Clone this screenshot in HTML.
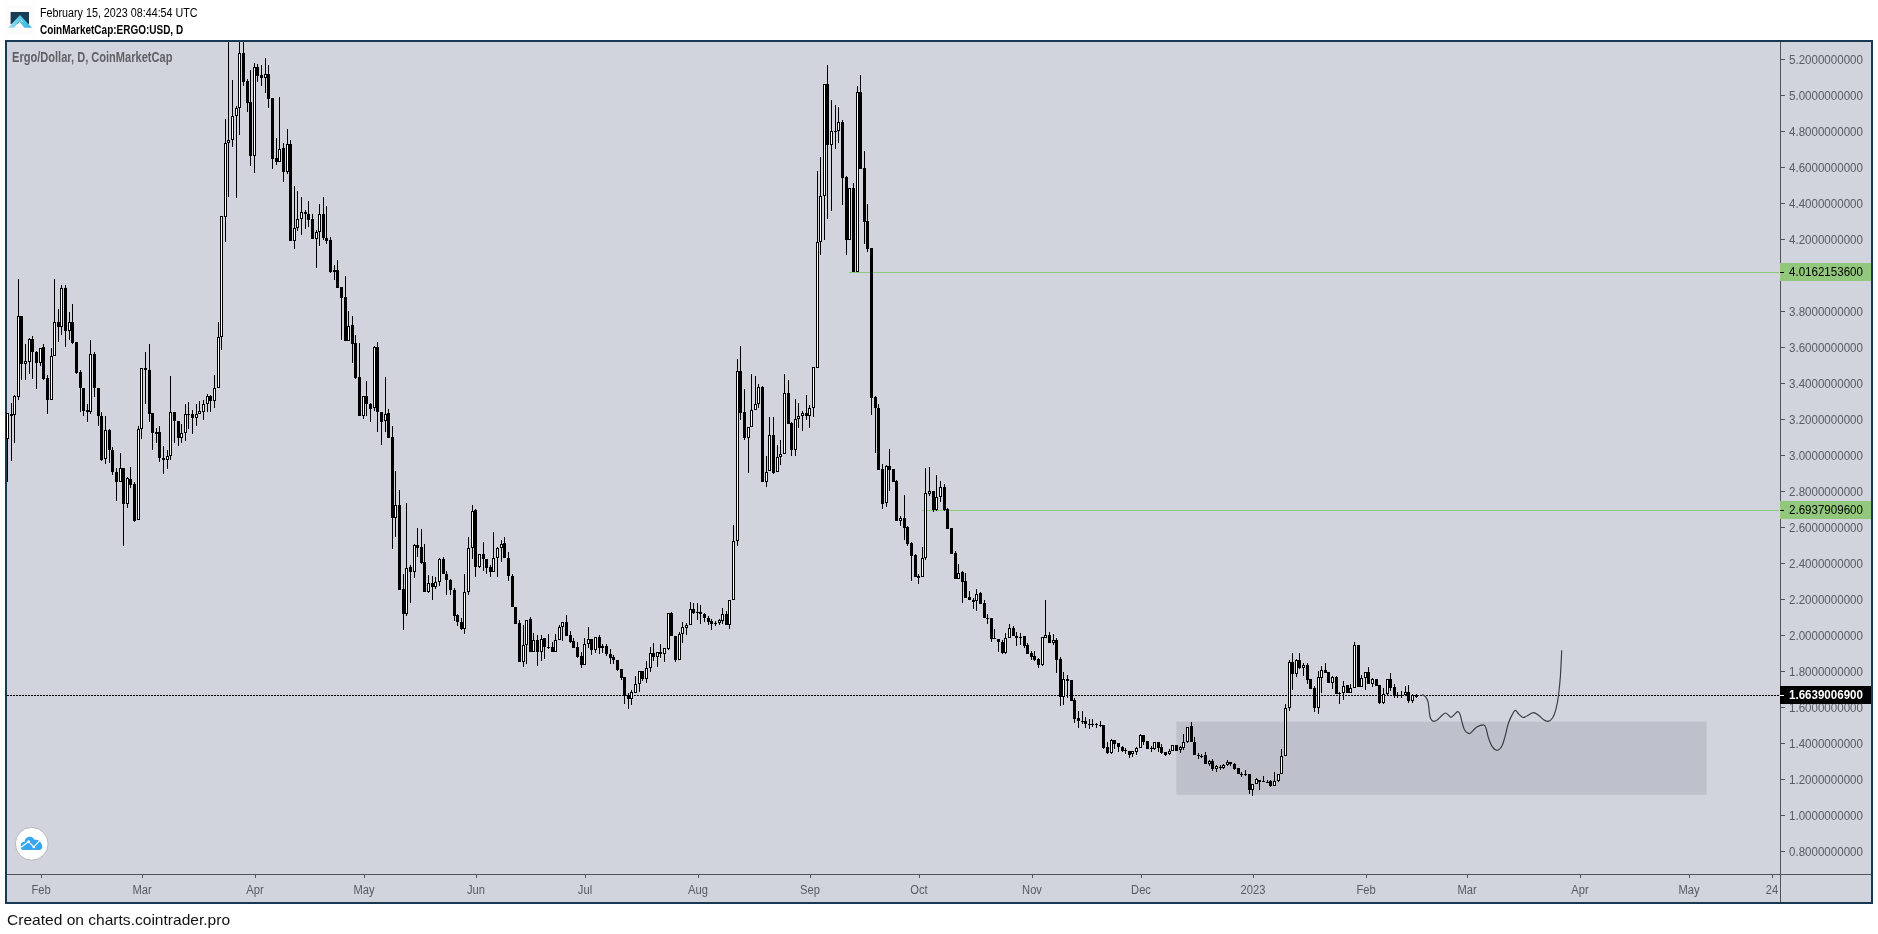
<!DOCTYPE html>
<html><head><meta charset="utf-8"><title>chart</title>
<style>
html,body{margin:0;padding:0;background:#fff;}
body{width:1878px;height:934px;position:relative;overflow:hidden;font-family:"Liberation Sans",sans-serif;}
.t{position:absolute;white-space:nowrap;transform-origin:0 50%;line-height:1;}
.frame{position:absolute;left:5px;top:40px;width:1864px;height:860px;border:2px solid #173a52;background:#d1d4dc;}
.pl{position:absolute;left:1789px;font-size:12.5px;color:#555a66;transform:scaleX(0.925);transform-origin:0 50%;line-height:12px;height:12px;white-space:nowrap;}
.tl{position:absolute;top:884px;font-size:12px;color:#555a66;line-height:12px;width:60px;margin-left:-30px;text-align:center;transform:scaleX(0.93);white-space:nowrap;}
.box{position:absolute;left:1780px;width:91px;height:18px;}
</style></head><body>
<div class="frame"></div>

<svg width="1878" height="934" viewBox="0 0 1878 934" shape-rendering="crispEdges" style="position:absolute;left:0;top:0">
<rect x="1176.4" y="721.7" width="530.2" height="73.1" fill="#bec1cb" shape-rendering="geometricPrecision"/>
<rect x="849" y="272" width="930" height="1" fill="#8fc779"/>
<rect x="922" y="510" width="857" height="1" fill="#8fc779"/>
<path d="M7 695.5H1780" stroke="#000" stroke-width="1" stroke-dasharray="2 1" fill="none"/>
<path d="M7 413h1v69h-1zM11 403h1v58h-1zM14 395h1v48h-1zM18 279h1v121h-1zM21 316h1v64h-1zM25 344h1v36h-1zM29 338h1v36h-1zM32 336h1v43h-1zM36 351h1v38h-1zM40 348h1v18h-1zM43 344h1v36h-1zM47 375h1v39h-1zM51 348h1v52h-1zM54 279h1v77h-1zM58 309h1v33h-1zM61 285h1v50h-1zM65 285h1v62h-1zM69 312h1v28h-1zM72 304h1v40h-1zM76 342h1v32h-1zM80 370h1v42h-1zM83 388h1v28h-1zM87 404h1v18h-1zM90 340h1v74h-1zM94 352h1v45h-1zM98 388h1v38h-1zM101 412h1v49h-1zM105 416h1v48h-1zM109 429h1v34h-1zM112 447h1v28h-1zM116 468h1v33h-1zM120 453h1v29h-1zM123 468h1v78h-1zM127 477h1v31h-1zM130 467h1v21h-1zM134 482h1v40h-1zM138 426h1v94h-1zM141 368h1v71h-1zM145 352h1v52h-1zM149 344h1v78h-1zM152 413h1v37h-1zM156 428h1v15h-1zM159 426h1v36h-1zM163 446h1v28h-1zM167 450h1v19h-1zM170 376h1v84h-1zM174 412h1v31h-1zM178 421h1v25h-1zM181 424h1v19h-1zM185 404h1v37h-1zM188 402h1v27h-1zM192 410h1v24h-1zM196 404h1v22h-1zM199 401h1v13h-1zM203 400h1v20h-1zM207 394h1v18h-1zM210 395h1v17h-1zM214 375h1v33h-1zM218 322h1v66h-1zM221 216h1v134h-1zM225 119h1v123h-1zM228 42h1v155h-1zM232 80h1v67h-1zM236 106h1v92h-1zM239 42h1v93h-1zM243 42h1v44h-1zM247 79h1v33h-1zM250 70h1v96h-1zM254 63h1v110h-1zM257 64h1v18h-1zM261 65h1v21h-1zM265 58h1v35h-1zM268 65h1v43h-1zM272 98h1v71h-1zM276 138h1v27h-1zM279 97h1v65h-1zM283 143h1v39h-1zM287 129h1v45h-1zM290 140h1v101h-1zM294 186h1v63h-1zM297 191h1v40h-1zM301 197h1v38h-1zM305 210h1v19h-1zM308 201h1v26h-1zM312 214h1v25h-1zM316 230h1v38h-1zM319 204h1v42h-1zM323 197h1v43h-1zM326 206h1v38h-1zM330 237h1v36h-1zM334 265h1v15h-1zM337 260h1v28h-1zM341 287h1v53h-1zM345 276h1v65h-1zM348 311h1v30h-1zM352 316h1v47h-1zM355 335h1v44h-1zM359 343h1v73h-1zM363 396h1v23h-1zM366 381h1v35h-1zM370 403h1v19h-1zM374 346h1v65h-1zM377 342h1v90h-1zM381 412h1v33h-1zM385 377h1v55h-1zM388 409h1v29h-1zM392 426h1v123h-1zM395 471h1v66h-1zM399 490h1v100h-1zM403 574h1v56h-1zM406 503h1v113h-1zM410 565h1v38h-1zM414 544h1v34h-1zM417 528h1v29h-1zM421 529h1v35h-1zM424 544h1v48h-1zM428 575h1v18h-1zM432 576h1v24h-1zM435 577h1v12h-1zM439 558h1v28h-1zM443 557h1v17h-1zM446 571h1v24h-1zM450 579h1v16h-1zM454 588h1v33h-1zM457 614h1v12h-1zM461 618h1v12h-1zM464 574h1v60h-1zM468 537h1v58h-1zM472 505h1v54h-1zM475 509h1v68h-1zM479 554h1v14h-1zM483 542h1v29h-1zM486 559h1v15h-1zM490 565h1v12h-1zM493 532h1v40h-1zM497 547h1v30h-1zM501 540h1v22h-1zM504 537h1v21h-1zM508 552h1v29h-1zM512 574h1v33h-1zM515 607h1v17h-1zM519 620h1v42h-1zM523 625h1v42h-1zM526 620h1v44h-1zM530 617h1v35h-1zM533 633h1v19h-1zM537 635h1v31h-1zM541 635h1v26h-1zM544 638h1v21h-1zM548 634h1v15h-1zM552 642h1v10h-1zM555 634h1v18h-1zM559 625h1v15h-1zM562 622h1v19h-1zM566 615h1v21h-1zM570 631h1v12h-1zM573 638h1v10h-1zM577 642h1v16h-1zM581 652h1v16h-1zM584 638h1v27h-1zM588 627h1v21h-1zM591 639h1v16h-1zM595 637h1v16h-1zM599 635h1v19h-1zM602 644h1v9h-1zM606 644h1v12h-1zM610 649h1v15h-1zM613 655h1v9h-1zM617 660h1v11h-1zM621 669h1v11h-1zM624 677h1v27h-1zM628 693h1v16h-1zM631 690h1v15h-1zM635 676h1v17h-1zM639 671h1v21h-1zM642 671h1v10h-1zM646 661h1v22h-1zM650 647h1v25h-1zM653 643h1v18h-1zM657 652h1v15h-1zM660 644h1v14h-1zM664 648h1v14h-1zM668 613h1v37h-1zM671 612h1v24h-1zM675 636h1v26h-1zM679 632h1v28h-1zM682 622h1v21h-1zM686 623h1v12h-1zM690 602h1v23h-1zM693 603h1v11h-1zM697 603h1v17h-1zM700 605h1v19h-1zM704 613h1v9h-1zM708 616h1v9h-1zM711 619h1v11h-1zM715 621h1v5h-1zM719 619h1v6h-1zM722 608h1v16h-1zM726 611h1v14h-1zM729 600h1v29h-1zM733 525h1v75h-1zM737 359h1v187h-1zM740 346h1v74h-1zM744 389h1v51h-1zM748 427h1v46h-1zM751 374h1v53h-1zM755 376h1v34h-1zM758 384h1v24h-1zM762 386h1v96h-1zM766 456h1v31h-1zM769 417h1v54h-1zM773 417h1v57h-1zM777 445h1v27h-1zM780 440h1v25h-1zM784 374h1v80h-1zM788 380h1v44h-1zM791 422h1v34h-1zM795 399h1v57h-1zM798 403h1v25h-1zM802 411h1v20h-1zM806 395h1v25h-1zM809 405h1v23h-1zM813 367h1v50h-1zM817 171h1v197h-1zM820 157h1v98h-1zM824 84h1v156h-1zM827 65h1v154h-1zM831 100h1v111h-1zM835 105h1v44h-1zM838 107h1v36h-1zM842 120h1v85h-1zM846 176h1v79h-1zM849 188h1v52h-1zM853 183h1v89h-1zM857 86h1v186h-1zM860 75h1v94h-1zM864 151h1v93h-1zM867 204h1v48h-1zM871 248h1v167h-1zM875 396h1v57h-1zM878 404h1v66h-1zM882 464h1v45h-1zM886 465h1v42h-1zM889 449h1v42h-1zM893 469h1v13h-1zM896 480h1v41h-1zM900 516h1v10h-1zM904 495h1v45h-1zM907 526h1v20h-1zM911 542h1v39h-1zM915 554h1v23h-1zM918 574h1v10h-1zM922 547h1v30h-1zM925 468h1v92h-1zM929 467h1v29h-1zM933 491h1v21h-1zM936 475h1v36h-1zM940 481h1v21h-1zM944 484h1v27h-1zM947 508h1v21h-1zM951 528h1v26h-1zM955 551h1v28h-1zM958 564h1v15h-1zM962 571h1v32h-1zM965 573h1v25h-1zM969 591h1v9h-1zM973 598h1v11h-1zM976 589h1v22h-1zM980 592h1v12h-1zM984 600h1v18h-1zM987 614h1v10h-1zM991 618h1v24h-1zM994 629h1v10h-1zM998 639h1v13h-1zM1002 640h1v14h-1zM1005 633h1v21h-1zM1009 624h1v14h-1zM1013 626h1v10h-1zM1016 632h1v14h-1zM1020 633h1v12h-1zM1024 636h1v12h-1zM1027 643h1v11h-1zM1031 651h1v9h-1zM1034 651h1v10h-1zM1038 658h1v10h-1zM1042 637h1v29h-1zM1045 600h1v38h-1zM1049 632h1v11h-1zM1053 634h1v11h-1zM1056 638h1v35h-1zM1060 657h1v49h-1zM1063 672h1v33h-1zM1067 675h1v23h-1zM1071 680h1v21h-1zM1074 698h1v25h-1zM1078 711h1v17h-1zM1082 711h1v13h-1zM1085 717h1v11h-1zM1089 719h1v10h-1zM1092 719h1v8h-1zM1096 723h1v5h-1zM1100 721h1v6h-1zM1103 725h1v24h-1zM1107 742h1v12h-1zM1111 739h1v15h-1zM1114 740h1v9h-1zM1118 743h1v9h-1zM1122 746h1v6h-1zM1125 748h1v6h-1zM1129 751h1v7h-1zM1132 751h1v6h-1zM1136 747h1v8h-1zM1140 734h1v14h-1zM1143 735h1v10h-1zM1147 741h1v8h-1zM1151 746h1v6h-1zM1154 742h1v8h-1zM1158 742h1v10h-1zM1161 744h1v10h-1zM1165 752h1v4h-1zM1169 749h1v6h-1zM1172 745h1v6h-1zM1176 745h1v6h-1zM1180 746h1v7h-1zM1183 734h1v16h-1zM1187 727h1v16h-1zM1191 722h1v20h-1zM1194 737h1v18h-1zM1198 753h1v6h-1zM1201 754h1v4h-1zM1205 752h1v12h-1zM1209 760h1v6h-1zM1212 759h1v12h-1zM1216 765h1v7h-1zM1220 765h1v5h-1zM1223 764h1v5h-1zM1227 760h1v6h-1zM1230 762h1v4h-1zM1234 763h1v7h-1zM1238 768h1v6h-1zM1241 772h1v5h-1zM1245 770h1v6h-1zM1249 774h1v20h-1zM1252 784h1v12h-1zM1256 778h1v6h-1zM1259 780h1v10h-1zM1263 776h1v6h-1zM1267 780h1v3h-1zM1270 780h1v7h-1zM1274 772h1v14h-1zM1278 774h1v8h-1zM1281 749h1v25h-1zM1285 704h1v52h-1zM1289 660h1v51h-1zM1292 653h1v37h-1zM1296 659h1v18h-1zM1299 653h1v16h-1zM1303 663h1v13h-1zM1307 663h1v21h-1zM1310 679h1v10h-1zM1314 686h1v26h-1zM1318 671h1v43h-1zM1321 666h1v27h-1zM1325 663h1v10h-1zM1328 672h1v11h-1zM1332 676h1v13h-1zM1336 676h1v18h-1zM1339 692h1v12h-1zM1343 681h1v19h-1zM1347 685h1v8h-1zM1350 684h1v9h-1zM1354 642h1v46h-1zM1358 645h1v42h-1zM1361 675h1v12h-1zM1365 672h1v18h-1zM1368 667h1v17h-1zM1372 678h1v9h-1zM1376 679h1v7h-1zM1379 685h1v19h-1zM1383 688h1v16h-1zM1387 679h1v17h-1zM1390 673h1v18h-1zM1394 684h1v14h-1zM1397 692h1v6h-1zM1401 691h1v7h-1zM1405 686h1v10h-1zM1408 685h1v18h-1zM1412 694h1v9h-1zM1416 694h1v4h-1z" fill="#000"/>
<path d="M6 413h3v26h-3zM10 414h3v2h-3zM13 396h3v19h-3zM17 316h3v81h-3zM20 316h3v48h-3zM24 361h3v3h-3zM28 339h3v23h-3zM31 339h3v13h-3zM35 352h3v11h-3zM39 348h3v15h-3zM42 347h3v32h-3zM46 378h3v22h-3zM50 356h3v44h-3zM53 322h3v34h-3zM57 322h3v5h-3zM60 288h3v39h-3zM64 288h3v43h-3zM68 322h3v9h-3zM71 322h3v21h-3zM75 342h3v31h-3zM79 372h3v16h-3zM82 388h3v23h-3zM86 410h3v2h-3zM89 354h3v58h-3zM93 354h3v34h-3zM97 388h3v28h-3zM100 416h3v44h-3zM104 430h3v29h-3zM108 430h3v20h-3zM111 450h3v22h-3zM115 472h3v10h-3zM119 468h3v14h-3zM122 468h3v36h-3zM126 478h3v26h-3zM129 479h3v6h-3zM133 484h3v37h-3zM137 429h3v91h-3zM140 368h3v61h-3zM144 368h3v2h-3zM148 370h3v44h-3zM151 413h3v20h-3zM155 432h3v2h-3zM158 432h3v26h-3zM162 458h3v2h-3zM166 456h3v4h-3zM169 412h3v44h-3zM173 412h3v9h-3zM177 421h3v17h-3zM180 433h3v5h-3zM184 414h3v19h-3zM187 414h3v1h-3zM191 414h3v4h-3zM195 414h3v4h-3zM198 411h3v3h-3zM202 404h3v8h-3zM206 396h3v8h-3zM209 396h3v5h-3zM213 388h3v13h-3zM217 337h3v51h-3zM220 216h3v121h-3zM224 143h3v74h-3zM227 140h3v3h-3zM231 116h3v24h-3zM235 108h3v8h-3zM238 53h3v55h-3zM242 53h3v29h-3zM246 81h3v22h-3zM249 102h3v54h-3zM253 67h3v89h-3zM256 67h3v9h-3zM260 75h3v3h-3zM264 74h3v4h-3zM267 74h3v25h-3zM271 98h3v61h-3zM275 158h3v4h-3zM278 149h3v13h-3zM282 148h3v24h-3zM286 144h3v28h-3zM289 144h3v97h-3zM293 228h3v13h-3zM296 219h3v9h-3zM300 212h3v7h-3zM304 212h3v2h-3zM307 214h3v6h-3zM311 219h3v20h-3zM315 232h3v7h-3zM318 214h3v18h-3zM322 214h3v24h-3zM325 238h3v3h-3zM329 240h3v32h-3zM333 270h3v2h-3zM336 270h3v18h-3zM340 287h3v11h-3zM344 297h3v44h-3zM347 326h3v15h-3zM351 325h3v19h-3zM354 343h3v35h-3zM358 377h3v39h-3zM362 396h3v20h-3zM365 396h3v8h-3zM369 404h3v5h-3zM373 347h3v61h-3zM376 347h3v65h-3zM380 412h3v10h-3zM384 414h3v7h-3zM387 413h3v25h-3zM391 437h3v81h-3zM394 505h3v13h-3zM398 505h3v85h-3zM402 589h3v25h-3zM405 568h3v46h-3zM409 567h3v5h-3zM413 545h3v27h-3zM416 545h3v3h-3zM420 547h3v16h-3zM423 562h3v30h-3zM427 583h3v9h-3zM431 583h3v4h-3zM434 582h3v5h-3zM438 559h3v23h-3zM442 559h3v15h-3zM445 574h3v6h-3zM449 580h3v10h-3zM453 590h3v26h-3zM456 615h3v7h-3zM460 622h3v7h-3zM463 592h3v37h-3zM467 548h3v44h-3zM471 511h3v37h-3zM474 510h3v57h-3zM478 554h3v13h-3zM482 554h3v5h-3zM485 559h3v9h-3zM489 567h3v5h-3zM492 558h3v14h-3zM496 548h3v10h-3zM500 544h3v4h-3zM503 543h3v15h-3zM507 558h3v18h-3zM511 576h3v31h-3zM514 607h3v17h-3zM518 623h3v39h-3zM522 645h3v17h-3zM525 620h3v25h-3zM529 619h3v33h-3zM532 640h3v12h-3zM536 640h3v12h-3zM540 639h3v13h-3zM543 638h3v9h-3zM547 647h3v1h-3zM551 647h3v5h-3zM554 640h3v12h-3zM558 627h3v13h-3zM561 622h3v5h-3zM565 622h3v14h-3zM569 635h3v7h-3zM572 641h3v7h-3zM576 647h3v10h-3zM580 656h3v9h-3zM583 644h3v21h-3zM587 639h3v5h-3zM590 639h3v11h-3zM594 637h3v13h-3zM598 637h3v11h-3zM601 646h3v2h-3zM605 646h3v8h-3zM609 654h3v4h-3zM612 657h3v3h-3zM616 660h3v10h-3zM620 669h3v9h-3zM623 677h3v19h-3zM627 695h3v4h-3zM630 692h3v7h-3zM634 684h3v9h-3zM638 671h3v13h-3zM641 671h3v8h-3zM645 668h3v11h-3zM649 653h3v15h-3zM652 653h3v4h-3zM656 652h3v5h-3zM659 652h3v2h-3zM663 648h3v6h-3zM667 613h3v36h-3zM670 613h3v23h-3zM674 636h3v24h-3zM678 634h3v26h-3zM681 627h3v7h-3zM685 625h3v3h-3zM689 609h3v16h-3zM692 609h3v4h-3zM696 612h3v1h-3zM699 612h3v2h-3zM703 614h3v4h-3zM707 618h3v4h-3zM710 621h3v3h-3zM714 623h3v1h-3zM718 620h3v3h-3zM721 614h3v7h-3zM725 614h3v11h-3zM728 600h3v25h-3zM732 541h3v59h-3zM736 371h3v170h-3zM739 371h3v42h-3zM743 412h3v26h-3zM747 427h3v11h-3zM750 410h3v17h-3zM754 404h3v6h-3zM757 387h3v17h-3zM761 387h3v95h-3zM765 472h3v10h-3zM768 435h3v36h-3zM772 435h3v38h-3zM776 457h3v15h-3zM779 454h3v3h-3zM783 393h3v61h-3zM787 393h3v31h-3zM790 423h3v27h-3zM794 419h3v31h-3zM797 416h3v3h-3zM801 413h3v3h-3zM805 413h3v3h-3zM808 408h3v8h-3zM812 367h3v41h-3zM816 242h3v126h-3zM819 196h3v46h-3zM823 84h3v112h-3zM826 84h3v61h-3zM830 131h3v14h-3zM834 131h3v1h-3zM837 122h3v9h-3zM841 122h3v56h-3zM845 177h3v63h-3zM848 188h3v52h-3zM852 188h3v84h-3zM856 92h3v180h-3zM859 92h3v77h-3zM863 168h3v54h-3zM866 221h3v28h-3zM870 248h3v150h-3zM874 397h3v11h-3zM877 408h3v62h-3zM881 469h3v35h-3zM885 466h3v37h-3zM888 466h3v4h-3zM892 469h3v13h-3zM895 481h3v40h-3zM899 518h3v3h-3zM903 518h3v10h-3zM906 527h3v17h-3zM910 543h3v13h-3zM914 555h3v22h-3zM917 576h3v2h-3zM921 558h3v19h-3zM924 493h3v65h-3zM928 491h3v3h-3zM932 491h3v19h-3zM935 497h3v13h-3zM939 487h3v10h-3zM943 487h3v23h-3zM946 509h3v20h-3zM950 528h3v26h-3zM954 553h3v26h-3zM957 573h3v6h-3zM961 572h3v10h-3zM964 581h3v17h-3zM968 597h3v3h-3zM972 600h3v2h-3zM975 594h3v7h-3zM979 593h3v11h-3zM983 603h3v15h-3zM986 618h3v1h-3zM990 618h3v21h-3zM993 638h3v1h-3zM997 639h3v3h-3zM1001 642h3v11h-3zM1004 638h3v15h-3zM1008 628h3v10h-3zM1012 628h3v8h-3zM1015 636h3v2h-3zM1019 637h3v1h-3zM1023 636h3v10h-3zM1026 645h3v9h-3zM1030 653h3v4h-3zM1033 656h3v4h-3zM1037 659h3v6h-3zM1041 637h3v28h-3zM1044 635h3v3h-3zM1048 635h3v8h-3zM1052 640h3v3h-3zM1055 640h3v20h-3zM1059 659h3v38h-3zM1062 679h3v18h-3zM1066 679h3v2h-3zM1070 680h3v21h-3zM1073 700h3v19h-3zM1077 718h3v3h-3zM1081 721h3v1h-3zM1084 721h3v3h-3zM1088 724h3v1h-3zM1091 724h3v1h-3zM1095 724h3v1h-3zM1099 725h3v1h-3zM1102 725h3v23h-3zM1106 747h3v6h-3zM1110 740h3v13h-3zM1113 740h3v4h-3zM1117 743h3v4h-3zM1121 747h3v4h-3zM1124 750h3v1h-3zM1128 751h3v4h-3zM1131 751h3v3h-3zM1135 748h3v4h-3zM1139 735h3v13h-3zM1142 735h3v7h-3zM1146 741h3v8h-3zM1150 748h3v1h-3zM1153 742h3v7h-3zM1157 742h3v6h-3zM1160 747h3v6h-3zM1164 752h3v3h-3zM1168 751h3v3h-3zM1171 745h3v6h-3zM1175 745h3v6h-3zM1179 747h3v3h-3zM1182 742h3v6h-3zM1186 727h3v15h-3zM1190 726h3v16h-3zM1193 742h3v13h-3zM1197 755h3v1h-3zM1200 756h3v1h-3zM1204 755h3v9h-3zM1208 761h3v3h-3zM1211 761h3v8h-3zM1215 766h3v3h-3zM1219 767h3v1h-3zM1222 765h3v3h-3zM1226 762h3v3h-3zM1229 762h3v2h-3zM1233 764h3v5h-3zM1237 768h3v6h-3zM1240 774h3v1h-3zM1244 774h3v1h-3zM1248 774h3v16h-3zM1251 784h3v6h-3zM1255 779h3v5h-3zM1258 780h3v2h-3zM1262 781h3v1h-3zM1266 782h3v1h-3zM1269 781h3v5h-3zM1273 781h3v5h-3zM1277 774h3v7h-3zM1280 756h3v18h-3zM1284 708h3v48h-3zM1288 662h3v46h-3zM1291 662h3v12h-3zM1295 660h3v14h-3zM1298 660h3v8h-3zM1302 665h3v3h-3zM1306 665h3v15h-3zM1309 679h3v10h-3zM1313 688h3v20h-3zM1317 677h3v31h-3zM1320 670h3v8h-3zM1324 670h3v3h-3zM1327 672h3v11h-3zM1331 677h3v6h-3zM1335 677h3v17h-3zM1338 693h3v1h-3zM1342 686h3v7h-3zM1346 685h3v8h-3zM1349 688h3v5h-3zM1353 645h3v43h-3zM1357 645h3v42h-3zM1360 678h3v9h-3zM1364 672h3v6h-3zM1367 672h3v12h-3zM1371 679h3v5h-3zM1375 679h3v7h-3zM1378 685h3v18h-3zM1382 694h3v9h-3zM1386 679h3v15h-3zM1389 679h3v9h-3zM1393 687h3v9h-3zM1396 695h3v1h-3zM1400 695h3v1h-3zM1404 692h3v3h-3zM1407 692h3v9h-3zM1411 695h3v6h-3zM1415 696h3v1h-3z" fill="#000"/>
<path d="M7 414h1v24h-1zM14 397h1v17h-1zM18 317h1v79h-1zM25 362h1v1h-1zM29 340h1v21h-1zM40 349h1v13h-1zM51 357h1v42h-1zM54 323h1v32h-1zM61 289h1v37h-1zM69 323h1v7h-1zM90 355h1v56h-1zM105 431h1v27h-1zM120 469h1v12h-1zM127 479h1v24h-1zM138 430h1v89h-1zM141 369h1v59h-1zM167 457h1v2h-1zM170 413h1v42h-1zM181 434h1v3h-1zM185 415h1v17h-1zM196 415h1v2h-1zM199 412h1v1h-1zM203 405h1v6h-1zM207 397h1v6h-1zM214 389h1v11h-1zM218 338h1v49h-1zM221 217h1v119h-1zM225 144h1v72h-1zM228 141h1v1h-1zM232 117h1v22h-1zM236 109h1v6h-1zM239 54h1v53h-1zM254 68h1v87h-1zM265 75h1v2h-1zM279 150h1v11h-1zM287 145h1v26h-1zM294 229h1v11h-1zM297 220h1v7h-1zM301 213h1v5h-1zM316 233h1v5h-1zM319 215h1v16h-1zM348 327h1v13h-1zM363 397h1v18h-1zM374 348h1v59h-1zM385 415h1v5h-1zM395 506h1v11h-1zM406 569h1v44h-1zM414 546h1v25h-1zM428 584h1v7h-1zM435 583h1v3h-1zM439 560h1v21h-1zM464 593h1v35h-1zM468 549h1v42h-1zM472 512h1v35h-1zM479 555h1v11h-1zM493 559h1v12h-1zM497 549h1v8h-1zM501 545h1v2h-1zM523 646h1v15h-1zM526 621h1v23h-1zM533 641h1v10h-1zM541 640h1v11h-1zM555 641h1v10h-1zM559 628h1v11h-1zM562 623h1v3h-1zM584 645h1v19h-1zM588 640h1v3h-1zM595 638h1v11h-1zM631 693h1v5h-1zM635 685h1v7h-1zM639 672h1v11h-1zM646 669h1v9h-1zM650 654h1v13h-1zM657 653h1v3h-1zM664 649h1v4h-1zM668 614h1v34h-1zM679 635h1v24h-1zM682 628h1v5h-1zM686 626h1v1h-1zM690 610h1v14h-1zM719 621h1v1h-1zM722 615h1v5h-1zM729 601h1v23h-1zM733 542h1v57h-1zM737 372h1v168h-1zM748 428h1v9h-1zM751 411h1v15h-1zM755 405h1v4h-1zM758 388h1v15h-1zM766 473h1v8h-1zM769 436h1v34h-1zM777 458h1v13h-1zM780 455h1v1h-1zM784 394h1v59h-1zM795 420h1v29h-1zM798 417h1v1h-1zM802 414h1v1h-1zM809 409h1v6h-1zM813 368h1v39h-1zM817 243h1v124h-1zM820 197h1v44h-1zM824 85h1v110h-1zM831 132h1v12h-1zM838 123h1v7h-1zM849 189h1v50h-1zM857 93h1v178h-1zM886 467h1v35h-1zM900 519h1v1h-1zM922 559h1v17h-1zM925 494h1v63h-1zM929 492h1v1h-1zM936 498h1v11h-1zM940 488h1v8h-1zM958 574h1v4h-1zM976 595h1v5h-1zM1005 639h1v13h-1zM1009 629h1v8h-1zM1042 638h1v26h-1zM1045 636h1v1h-1zM1053 641h1v1h-1zM1063 680h1v16h-1zM1111 741h1v11h-1zM1132 752h1v1h-1zM1136 749h1v2h-1zM1140 736h1v11h-1zM1154 743h1v5h-1zM1169 752h1v1h-1zM1172 746h1v4h-1zM1180 748h1v1h-1zM1183 743h1v4h-1zM1187 728h1v13h-1zM1209 762h1v1h-1zM1216 767h1v1h-1zM1223 766h1v1h-1zM1227 763h1v1h-1zM1252 785h1v4h-1zM1256 780h1v3h-1zM1274 782h1v3h-1zM1278 775h1v5h-1zM1281 757h1v16h-1zM1285 709h1v46h-1zM1289 663h1v44h-1zM1296 661h1v12h-1zM1303 666h1v1h-1zM1318 678h1v29h-1zM1321 671h1v6h-1zM1332 678h1v4h-1zM1343 687h1v5h-1zM1350 689h1v3h-1zM1354 646h1v41h-1zM1361 679h1v7h-1zM1365 673h1v4h-1zM1372 680h1v3h-1zM1383 695h1v7h-1zM1387 680h1v13h-1zM1405 693h1v1h-1zM1412 696h1v4h-1z" fill="#fff"/>
<path d="M1422.2 694.6C1422.7 694.9 1424.4 695.4 1425.4 696.6C1426.4 697.8 1427.3 699.1 1428.0 701.7C1428.7 704.3 1428.9 709.2 1429.3 712.0C1429.7 714.8 1429.8 716.8 1430.6 718.4C1431.3 720.0 1432.6 721.2 1433.8 721.4C1435.0 721.6 1436.2 720.7 1437.6 719.7C1439.0 718.7 1440.8 716.3 1442.1 715.2C1443.4 714.1 1444.6 713.0 1445.7 713.0C1446.8 713.0 1447.7 714.5 1448.6 715.2C1449.5 715.9 1450.1 717.5 1451.1 717.4C1452.0 717.3 1453.2 715.6 1454.3 714.6C1455.4 713.6 1456.7 711.7 1457.6 711.6C1458.5 711.5 1459.2 712.1 1459.9 713.9C1460.7 715.7 1461.3 719.6 1462.1 722.3C1462.9 725.0 1463.4 728.1 1464.6 730.0C1465.8 731.9 1467.7 733.5 1469.1 733.6C1470.5 733.7 1471.7 731.7 1473.0 730.6C1474.3 729.5 1475.1 728.1 1476.8 727.1C1478.5 726.1 1481.8 724.8 1483.3 724.8C1484.8 724.8 1484.9 725.2 1485.8 727.4C1486.7 729.5 1487.3 734.5 1488.4 737.7C1489.5 740.9 1490.8 744.6 1492.3 746.7C1493.8 748.8 1495.5 750.4 1497.1 750.3C1498.7 750.2 1500.6 748.3 1501.9 746.0C1503.2 743.7 1504.0 740.1 1505.1 736.4C1506.2 732.6 1507.1 727.1 1508.3 723.5C1509.5 719.9 1511.0 716.8 1512.2 714.6C1513.4 712.4 1514.3 710.5 1515.4 710.4C1516.5 710.3 1517.3 712.7 1518.6 713.9C1519.9 715.1 1521.5 717.3 1523.1 717.5C1524.7 717.7 1526.6 716.0 1528.3 715.2C1530.0 714.4 1531.7 712.6 1533.4 712.6C1535.1 712.6 1536.8 714.0 1538.5 715.2C1540.2 716.4 1542.1 718.7 1543.7 719.7C1545.3 720.7 1546.7 721.7 1548.2 721.4C1549.7 721.1 1551.4 719.8 1552.7 717.8C1554.0 715.8 1554.9 713.1 1555.9 709.4C1556.9 705.6 1557.8 700.9 1558.5 695.3C1559.2 689.7 1559.9 683.5 1560.4 676.0C1560.9 668.5 1561.5 654.6 1561.7 650.3" stroke="#383a41" stroke-width="1.15" fill="none" shape-rendering="auto"/>
<rect x="1780" y="42" width="1" height="860" fill="#4f5460"/>
<rect x="7" y="874" width="1864" height="1" fill="#4f5460"/>
<rect x="1781" y="59" width="4" height="1" fill="#4f5460"/>
<rect x="1781" y="95" width="4" height="1" fill="#4f5460"/>
<rect x="1781" y="131" width="4" height="1" fill="#4f5460"/>
<rect x="1781" y="167" width="4" height="1" fill="#4f5460"/>
<rect x="1781" y="203" width="4" height="1" fill="#4f5460"/>
<rect x="1781" y="239" width="4" height="1" fill="#4f5460"/>
<rect x="1781" y="275" width="4" height="1" fill="#4f5460"/>
<rect x="1781" y="311" width="4" height="1" fill="#4f5460"/>
<rect x="1781" y="347" width="4" height="1" fill="#4f5460"/>
<rect x="1781" y="383" width="4" height="1" fill="#4f5460"/>
<rect x="1781" y="419" width="4" height="1" fill="#4f5460"/>
<rect x="1781" y="455" width="4" height="1" fill="#4f5460"/>
<rect x="1781" y="491" width="4" height="1" fill="#4f5460"/>
<rect x="1781" y="527" width="4" height="1" fill="#4f5460"/>
<rect x="1781" y="563" width="4" height="1" fill="#4f5460"/>
<rect x="1781" y="599" width="4" height="1" fill="#4f5460"/>
<rect x="1781" y="635" width="4" height="1" fill="#4f5460"/>
<rect x="1781" y="671" width="4" height="1" fill="#4f5460"/>
<rect x="1781" y="707" width="4" height="1" fill="#4f5460"/>
<rect x="1781" y="743" width="4" height="1" fill="#4f5460"/>
<rect x="1781" y="779" width="4" height="1" fill="#4f5460"/>
<rect x="1781" y="815" width="4" height="1" fill="#4f5460"/>
<rect x="1781" y="851" width="4" height="1" fill="#4f5460"/>
<rect x="41" y="875" width="1" height="3" fill="#4f5460"/>
<rect x="142" y="875" width="1" height="3" fill="#4f5460"/>
<rect x="255" y="875" width="1" height="3" fill="#4f5460"/>
<rect x="364" y="875" width="1" height="3" fill="#4f5460"/>
<rect x="476" y="875" width="1" height="3" fill="#4f5460"/>
<rect x="585" y="875" width="1" height="3" fill="#4f5460"/>
<rect x="698" y="875" width="1" height="3" fill="#4f5460"/>
<rect x="810" y="875" width="1" height="3" fill="#4f5460"/>
<rect x="919" y="875" width="1" height="3" fill="#4f5460"/>
<rect x="1032" y="875" width="1" height="3" fill="#4f5460"/>
<rect x="1141" y="875" width="1" height="3" fill="#4f5460"/>
<rect x="1253" y="875" width="1" height="3" fill="#4f5460"/>
<rect x="1366" y="875" width="1" height="3" fill="#4f5460"/>
<rect x="1467" y="875" width="1" height="3" fill="#4f5460"/>
<rect x="1580" y="875" width="1" height="3" fill="#4f5460"/>
<rect x="1689" y="875" width="1" height="3" fill="#4f5460"/>
<rect x="1772" y="875" width="1" height="3" fill="#4f5460"/>
</svg>
<div style="position:absolute;left:0;top:0;width:1878px;height:934px;will-change:transform">
<div class="t" style="left:39.6px;top:6.6px;font-size:12px;color:#000;transform:scaleX(0.895)">February 15, 2023 08:44:54 UTC</div>
<div class="t" style="left:40px;top:23.5px;font-size:12px;font-weight:bold;color:#000;transform:scaleX(0.832)">CoinMarketCap:ERGO:USD, D</div>
<div class="t" style="left:12px;top:50px;font-size:14px;font-weight:bold;color:#5f6166;transform:scaleX(0.79)">Ergo/Dollar, D, CoinMarketCap</div>
<div class="t" style="left:6.8px;top:912px;font-size:15px;color:#111;transform:scaleX(1.037)">Created on charts.cointrader.pro</div>
<div class="pl" style="top:54px">5.2000000000</div>
<div class="pl" style="top:90px">5.0000000000</div>
<div class="pl" style="top:126px">4.8000000000</div>
<div class="pl" style="top:162px">4.6000000000</div>
<div class="pl" style="top:198px">4.4000000000</div>
<div class="pl" style="top:234px">4.2000000000</div>
<div class="pl" style="top:270px">4.0000000000</div>
<div class="pl" style="top:306px">3.8000000000</div>
<div class="pl" style="top:342px">3.6000000000</div>
<div class="pl" style="top:378px">3.4000000000</div>
<div class="pl" style="top:414px">3.2000000000</div>
<div class="pl" style="top:450px">3.0000000000</div>
<div class="pl" style="top:486px">2.8000000000</div>
<div class="pl" style="top:522px">2.6000000000</div>
<div class="pl" style="top:558px">2.4000000000</div>
<div class="pl" style="top:594px">2.2000000000</div>
<div class="pl" style="top:630px">2.0000000000</div>
<div class="pl" style="top:666px">1.8000000000</div>
<div class="pl" style="top:702px">1.6000000000</div>
<div class="pl" style="top:738px">1.4000000000</div>
<div class="pl" style="top:774px">1.2000000000</div>
<div class="pl" style="top:810px">1.0000000000</div>
<div class="pl" style="top:846px">0.8000000000</div>
<div class="tl" style="left:41px">Feb</div>
<div class="tl" style="left:142px">Mar</div>
<div class="tl" style="left:255px">Apr</div>
<div class="tl" style="left:364px">May</div>
<div class="tl" style="left:476px">Jun</div>
<div class="tl" style="left:585px">Jul</div>
<div class="tl" style="left:698px">Aug</div>
<div class="tl" style="left:810px">Sep</div>
<div class="tl" style="left:919px">Oct</div>
<div class="tl" style="left:1032px">Nov</div>
<div class="tl" style="left:1141px">Dec</div>
<div class="tl" style="left:1253px">2023</div>
<div class="tl" style="left:1366px">Feb</div>
<div class="tl" style="left:1467px">Mar</div>
<div class="tl" style="left:1580px">Apr</div>
<div class="tl" style="left:1689px">May</div>
<div class="tl" style="left:1772px">24</div>
<div class="box" style="top:263px;background:#92c87c"><div style="position:absolute;left:0;top:9px;width:4px;height:1px;background:#000"></div><div class="pl" style="left:9px;top:3px;color:#000;">4.0162153600</div></div>
<div class="box" style="top:501px;background:#92c87c"><div style="position:absolute;left:0;top:9px;width:4px;height:1px;background:#000"></div><div class="pl" style="left:9px;top:3px;color:#000;">2.6937909600</div></div>
<div class="box" style="top:686px;background:#000"><div style="position:absolute;left:0;top:9px;width:4px;height:1px;background:#fff"></div><div class="pl" style="left:9px;top:3px;color:#fff;font-weight:bold;">1.6639006900</div></div>
</div>
<svg style="position:absolute;left:5px;top:5px" width="30" height="30" viewBox="5 5 30 30"><rect x="5" y="5" width="30" height="30" fill="#fcfcfc"/><rect x="10.6" y="12" width="18.4" height="12" fill="#1a3d56"/><defs><linearGradient id="lg" x1="0" y1="0" x2="1" y2="0"><stop offset="0" stop-color="#a8e0f0"/><stop offset="0.5" stop-color="#5cc8e8"/><stop offset="1" stop-color="#36b0dc"/></linearGradient></defs><path d="M19.6 21.4L23 26H16Z" fill="#fff"/><path d="M8 27.8L20 15L32 27.8H24.2L19.6 21.6L14 27.8Z" fill="url(#lg)"/><path d="M20.5 18.5l1.2 3.2 1.8.3-1.4-1.2z" fill="#fff" opacity="0.8"/></svg>
<svg style="position:absolute;left:14px;top:826px" width="36" height="36" viewBox="0 0 36 36"><circle cx="17.7" cy="17.8" r="16.4" fill="#fff" stroke="#b3b6c0" stroke-width="1"/><path d="M9.5 24C7.6 24 6.8 22.8 6.8 21.3V18.6C6.8 17 8 15.9 9.6 15.9C9.9 15.9 10.3 16 10.6 16.1C10.6 13.1 12.9 10.8 15.8 10.8C18 10.8 19.9 12.1 20.7 14.1C21.3 13.8 22 13.7 22.7 13.8C24.2 14 25.5 15 26.6 16.5C27.8 18 28.3 19.5 28.3 20.8C28.3 22.7 27 24 25.2 24Z" fill="#37a6ef"/><path d="M7 21.2L14.5 15.7L19.8 21L25.6 14.6" stroke="#fff" stroke-width="1.1" fill="none"/><circle cx="14.7" cy="15.6" r="1.35" fill="#fff"/><circle cx="19.8" cy="21" r="1.35" fill="#fff"/></svg>
</body></html>
